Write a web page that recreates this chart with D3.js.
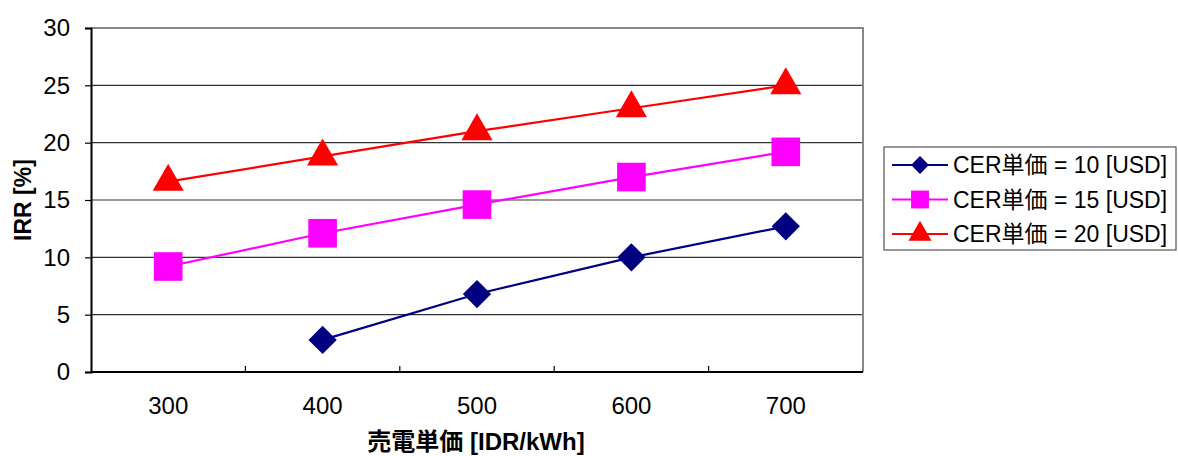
<!DOCTYPE html>
<html>
<head>
<meta charset="utf-8">
<script src="https://cdn.jsdelivr.net/npm/d3@7"></script>
<style>
  body { margin: 0; background: #fff; }
  svg { display: block; font-family: "Liberation Sans", Arial, "Noto Sans CJK JP", sans-serif; }
</style>
</head>
<body>
<svg id="chart" width="1178" height="456"></svg>
<script>
// Categories on the x axis: selling price of electricity [IDR/kWh]
const prices = [300, 400, 500, 600, 700];
// IRR [%] for each CER unit price (null = no value)
const irrCer10 = [null, 2.8, 6.8, 10.0, 12.7];
const irrCer15 = [9.2, 12.1, 14.6, 17.0, 19.2];
const irrCer20 = [16.6, 18.8, 21.0, 23.0, 25.0];
const yTicks = [0, 5, 10, 15, 20, 25, 30];
const seriesNames = ["CER単価 = 10 [USD]", "CER単価 = 15 [USD]", "CER単価 = 20 [USD]"];

const series = [
  { name: seriesNames[0], values: irrCer10, color: "#000080", shape: "diamond" },
  { name: seriesNames[1], values: irrCer15, color: "#FF00FF", shape: "square" },
  { name: seriesNames[2], values: irrCer20, color: "#FF0000", shape: "triangle" }
];

const svg = d3.select("#chart");
const plot = { left: 91, right: 863, top: 28, bottom: 372 };

const x = d3.scaleBand().domain(prices).range([plot.left, plot.right]);
const y = d3.scaleLinear().domain([0, 30]).range([plot.bottom, plot.top]);

// Horizontal gridlines
svg.append("g")
  .selectAll("line")
  .data(yTicks.filter(t => t > 0 && t < 30))
  .join("line")
  .attr("x1", plot.left).attr("x2", plot.right)
  .attr("y1", d => y(d)).attr("y2", d => y(d))
  .attr("stroke", "#333").attr("stroke-width", 1.2);

// Plot area border (top and right) in gray
svg.append("path")
  .attr("d", `M${plot.left},${plot.top}H${plot.right}V${plot.bottom}`)
  .attr("fill", "none").attr("stroke", "#888").attr("stroke-width", 2);

// Y axis
const yAxis = svg.append("g")
  .attr("transform", `translate(${plot.left},0)`)
  .call(d3.axisLeft(y).tickValues(yTicks).tickSize(6).tickPadding(15));
yAxis.select(".domain").attr("stroke", "#000").attr("stroke-width", 2);
yAxis.selectAll(".tick line").attr("stroke", "#000").attr("stroke-width", 1.2);
yAxis.selectAll(".tick text").attr("font-size", 24).attr("fill", "#000")
  .attr("font-family", "Liberation Sans, Arial, sans-serif");

// X axis: category labels centred, ticks at band boundaries
const xAxis = svg.append("g")
  .attr("transform", `translate(0,${plot.bottom})`)
  .call(d3.axisBottom(x).tickSize(0).tickPadding(25));
xAxis.select(".domain").attr("stroke", "#000").attr("stroke-width", 2)
  .attr("d", `M${plot.left},0H${plot.right}`);
xAxis.selectAll(".tick text").attr("font-size", 24).attr("fill", "#000")
  .attr("font-family", "Liberation Sans, Arial, sans-serif");
svg.append("g")
  .selectAll("line")
  .data(prices.slice(1))
  .join("line")
  .attr("x1", d => x(d)).attr("x2", d => x(d))
  .attr("y1", plot.bottom).attr("y2", plot.bottom - 6)
  .attr("stroke", "#000").attr("stroke-width", 1.2);

// Axis titles
svg.append("text")
  .attr("x", (plot.left + plot.right) / 2 - 1).attr("y", 450)
  .attr("text-anchor", "middle")
  .attr("font-size", 24).attr("font-weight", "bold")
  .text("売電単価 [IDR/kWh]");
svg.append("text")
  .attr("transform", `translate(31,${(plot.top + plot.bottom) / 2}) rotate(-90)`)
  .attr("text-anchor", "middle")
  .attr("font-size", 23).attr("font-weight", "bold")
  .text("IRR [%]");

// Marker symbols
const symbolFor = {
  diamond: d3.symbol().type(d3.symbolSquare).size(400),
  square: d3.symbol().type(d3.symbolSquare).size(820),
  triangle: d3.symbol().type(d3.symbolTriangle).size(420)
};
const rotateFor = { diamond: 45, square: 0, triangle: 0 };

const cx = d => x(d) + x.bandwidth() / 2;

series.forEach(s => {
  const pts = prices.map((p, i) => ({ p, v: s.values[i] })).filter(d => d.v != null);
  svg.append("path")
    .datum(pts)
    .attr("fill", "none")
    .attr("stroke", s.color)
    .attr("stroke-width", 2.2)
    .attr("d", d3.line().x(d => cx(d.p)).y(d => y(d.v)));
  svg.append("g")
    .selectAll("path")
    .data(pts)
    .join("path")
    .attr("d", symbolFor[s.shape])
    .attr("transform", d => `translate(${cx(d.p)},${y(d.v)}) rotate(${rotateFor[s.shape]})`)
    .attr("fill", s.color);
});

// Legend
const legend = svg.append("g");
legend.append("rect")
  .attr("x", 884).attr("y", 147).attr("width", 292).attr("height", 103)
  .attr("fill", "#fff").attr("stroke", "#555").attr("stroke-width", 1.2);
series.forEach((s, i) => {
  const ly = 165 + i * 34.5;
  legend.append("line")
    .attr("x1", 892).attr("x2", 948).attr("y1", ly).attr("y2", ly)
    .attr("stroke", s.color).attr("stroke-width", 2.2);
  const sizes = { diamond: 160, square: 320, triangle: 230 };
  legend.append("path")
    .attr("d", d3.symbol().type(s.shape === "triangle" ? d3.symbolTriangle : d3.symbolSquare).size(sizes[s.shape]))
    .attr("transform", `translate(920,${ly}) rotate(${rotateFor[s.shape]})`)
    .attr("fill", s.color);
  legend.append("text")
    .attr("x", 953).attr("y", ly + 8)
    .attr("font-size", 23).attr("fill", "#000")
    .text(s.name);
});
</script>
</body>
</html>
